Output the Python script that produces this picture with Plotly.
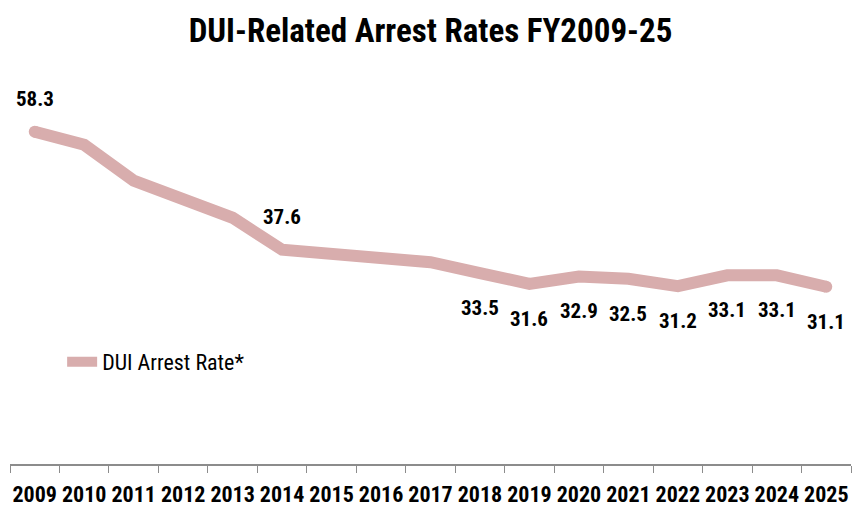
import plotly.graph_objects as go

# data
years = [str(y) for y in range(2009, 2026)]
rates = [58.3, 56.0, 49.7, 46.5, 43.2, 37.6, 36.9, 36.2, 35.4, 33.5,
         31.6, 32.9, 32.5, 31.2, 33.1, 33.1, 31.1]
label_years = ["2009", "2014", "2018", "2019", "2020", "2021", "2022", "2023", "2024", "2025"]
label_above = ["2009", "2014"]

FONT = "Liberation Sans Narrow, Roboto Condensed, Arial Narrow, sans-serif"
LINE_COLOR = "#d8adad"

fig = go.Figure()
fig.add_trace(go.Scatter(
    x=years, y=rates,
    mode="lines",
    name="DUI Arrest Rate*",
    line=dict(color=LINE_COLOR, width=12),
))
# round the line ends
fig.add_trace(go.Scatter(
    x=[years[0], years[-1]], y=[rates[0], rates[-1]],
    mode="markers", showlegend=False, hoverinfo="skip",
    marker=dict(color=LINE_COLOR, size=12, line=dict(width=0)),
))

annotations = []
for i, (yr, v) in enumerate(zip(years, rates)):
    if yr not in label_years:
        continue
    # category axis: position by index so "2009" is not read as a number
    annotations.append(dict(
        x=i, y=v, xref="x", yref="y", text="<b>%.1f</b>" % v, showarrow=False,
        yshift=33 if yr in label_above else -35,
        font=dict(family=FONT, size=21, color="black"),
    ))

fig.update_layout(
    width=861, height=510,
    margin=dict(l=10, r=10, t=65, b=46),
    paper_bgcolor="white", plot_bgcolor="white",
    annotations=annotations,
    title=dict(text="<b>DUI-Related Arrest Rates FY2009-25</b>",
               x=0.5, xanchor="center", y=0.94, yanchor="middle",
               font=dict(family=FONT, size=33, color="black")),
    showlegend=True,
    legend=dict(x=0.062, y=0.256, xanchor="left", yanchor="middle",
                bgcolor="rgba(0,0,0,0)",
                font=dict(family=FONT, size=22, color="black")),
    xaxis=dict(type="category", range=[-0.5, 16.5], tickson="boundaries",
               showline=True, linecolor="#8c8c8c", linewidth=2,
               ticks="outside", ticklen=7, tickcolor="#8c8c8c", tickwidth=1,
               showgrid=False, zeroline=False, automargin=False, tickangle=0,
               ticklabelstandoff=10,
               tickfont=dict(family=FONT, size=22, color="black", weight="bold")),
    yaxis=dict(range=[0, 70], visible=False, showgrid=False, zeroline=False),
)

fig.write_html("out.html", config={"displayModeBar": False},
               post_script="document.body.style.margin='0';")
